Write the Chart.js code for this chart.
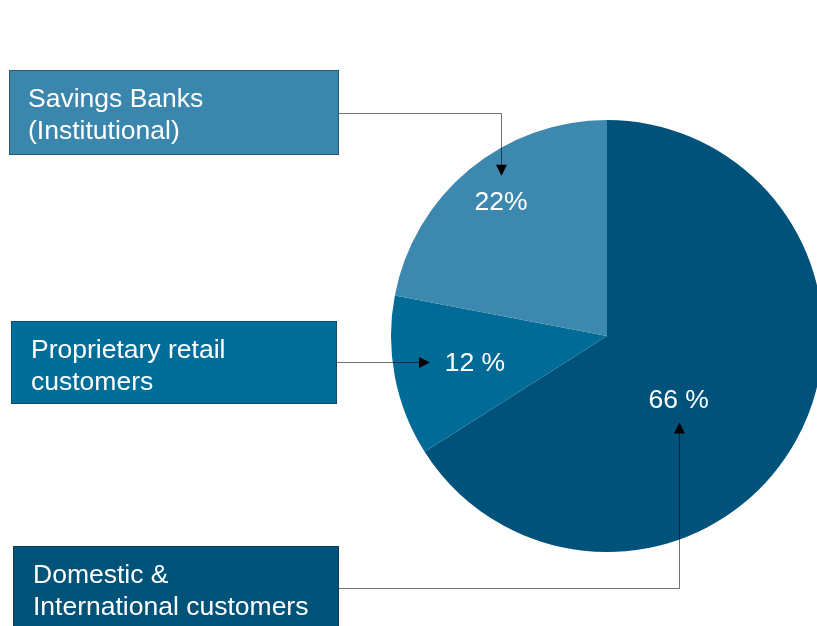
<!DOCTYPE html>
<html>
<head>
<meta charset="utf-8">
<script src="https://cdn.jsdelivr.net/npm/chart.js@4.4.1/dist/chart.umd.min.js"></script>
<style>
  html, body { margin: 0; padding: 0; background: #ffffff; overflow: hidden; width: 817px; height: 626px; }
  #wrap { position: absolute; left: 0; top: 0; width: 1214px; height: 672px; }
</style>
</head>
<body>
<div id="wrap"><canvas id="c"></canvas></div>
<script>
// ---- data ----
const categories = ['Domestic & International customers', 'Proprietary retail customers', 'Savings Banks (Institutional)'];
const shares = [66, 12, 22];
const valueLabels = ['66 %', '12 %', '22%'];
const boxLines = [['Domestic &', 'International customers'], ['Proprietary retail', 'customers'], ['Savings Banks', '(Institutional)']];

// ---- styles ----
const sliceColors = ['#00527a', '#006b96', '#3d88ae'];
const boxColors = ['#005378', '#006e99', '#3b86ad'];
const boxRects = [[13, 546, 326, 100], [11, 321, 326, 83], [9, 70, 330, 85]];
const textInset = [20, 20, 19];
const connectorY = [588, 362, 113];
const labelRadial = [0.44, 0.623, 0.795];
const labelAngleShift = [12.3, -0.3, 1.5]; // degrees
const FONT = '26.5px "Liberation Sans", Arial, sans-serif';

function arrowHead(ctx, x, y, dir) {
  const L = 11, W = 5.5;
  ctx.beginPath();
  if (dir === 'down') { ctx.moveTo(x, y); ctx.lineTo(x - W, y - L); ctx.lineTo(x + W, y - L); }
  else if (dir === 'up') { ctx.moveTo(x, y); ctx.lineTo(x - W, y + L); ctx.lineTo(x + W, y + L); }
  else { ctx.moveTo(x, y); ctx.lineTo(x - L, y - W); ctx.lineTo(x - L, y + W); }
  ctx.closePath();
  ctx.fillStyle = '#000';
  ctx.fill();
}

const calloutPlugin = {
  id: 'callouts',
  afterDatasetsDraw(chart) {
    const ctx = chart.ctx;
    const meta = chart.getDatasetMeta(0);
    ctx.save();
    meta.data.forEach((arc, i) => {
      const p = arc.getProps(['x', 'y', 'startAngle', 'endAngle', 'outerRadius'], true);
      const mid = (p.startAngle + p.endAngle) / 2 + labelAngleShift[i] * Math.PI / 180;
      const r = p.outerRadius * labelRadial[i];
      const lx = p.x + Math.cos(mid) * r;
      const ly = p.y + Math.sin(mid) * r;
      // value label
      ctx.font = FONT;
      ctx.fillStyle = '#ffffff';
      ctx.textAlign = 'center';
      ctx.textBaseline = 'middle';
      ctx.fillText(valueLabels[i], lx, ly + 2);

      // box
      const [bx, by, bw, bh] = boxRects[i];
      ctx.fillStyle = boxColors[i];
      ctx.fillRect(bx, by, bw, bh);
      ctx.setLineDash([1, 1]);
      ctx.strokeStyle = '#1a2a35';
      ctx.lineWidth = 1;
      ctx.strokeRect(bx + 0.5, by + 0.5, bw - 1, bh - 1);
      ctx.setLineDash([]);
      ctx.fillStyle = '#ffffff';
      ctx.textAlign = 'left';
      ctx.textBaseline = 'alphabetic';
      boxLines[i].forEach((t, k) => ctx.fillText(t, bx + textInset[i], by + 37 + k * 31.5));

      // connector
      const sx = bx + bw, cy = connectorY[i];
      ctx.strokeStyle = 'rgba(0,0,0,0.55)';
      ctx.lineWidth = 1;
      ctx.beginPath();
      ctx.moveTo(sx, cy + 0.5);
      if (i === 1) {
        const tx = lx - 45;
        ctx.lineTo(tx - 8, cy + 0.5);
        ctx.stroke();
        arrowHead(ctx, tx, cy + 0.5, 'right');
      } else if (i === 0) {
        const tx = Math.round(lx) + 0.5, ty = ly + 24;
        ctx.lineTo(tx, cy + 0.5);
        ctx.lineTo(tx, ty + 8);
        ctx.stroke();
        arrowHead(ctx, tx, ty, 'up');
      } else {
        const tx = Math.round(lx) + 0.5, ty = ly - 25;
        ctx.lineTo(tx, cy + 0.5);
        ctx.lineTo(tx, ty - 8);
        ctx.stroke();
        arrowHead(ctx, tx, ty, 'down');
      }
    });
    ctx.restore();
  }
};

new Chart(document.getElementById('c'), {
  type: 'pie',
  data: {
    labels: categories,
    datasets: [{
      data: shares,
      backgroundColor: sliceColors,
      borderWidth: 0
    }]
  },
  options: {
    responsive: true,
    maintainAspectRatio: false,
    animation: false,
    radius: 216,
    layout: { padding: 0 },
    plugins: { legend: { display: false }, tooltip: { enabled: false } }
  },
  plugins: [calloutPlugin]
});
</script>
</body>
</html>
